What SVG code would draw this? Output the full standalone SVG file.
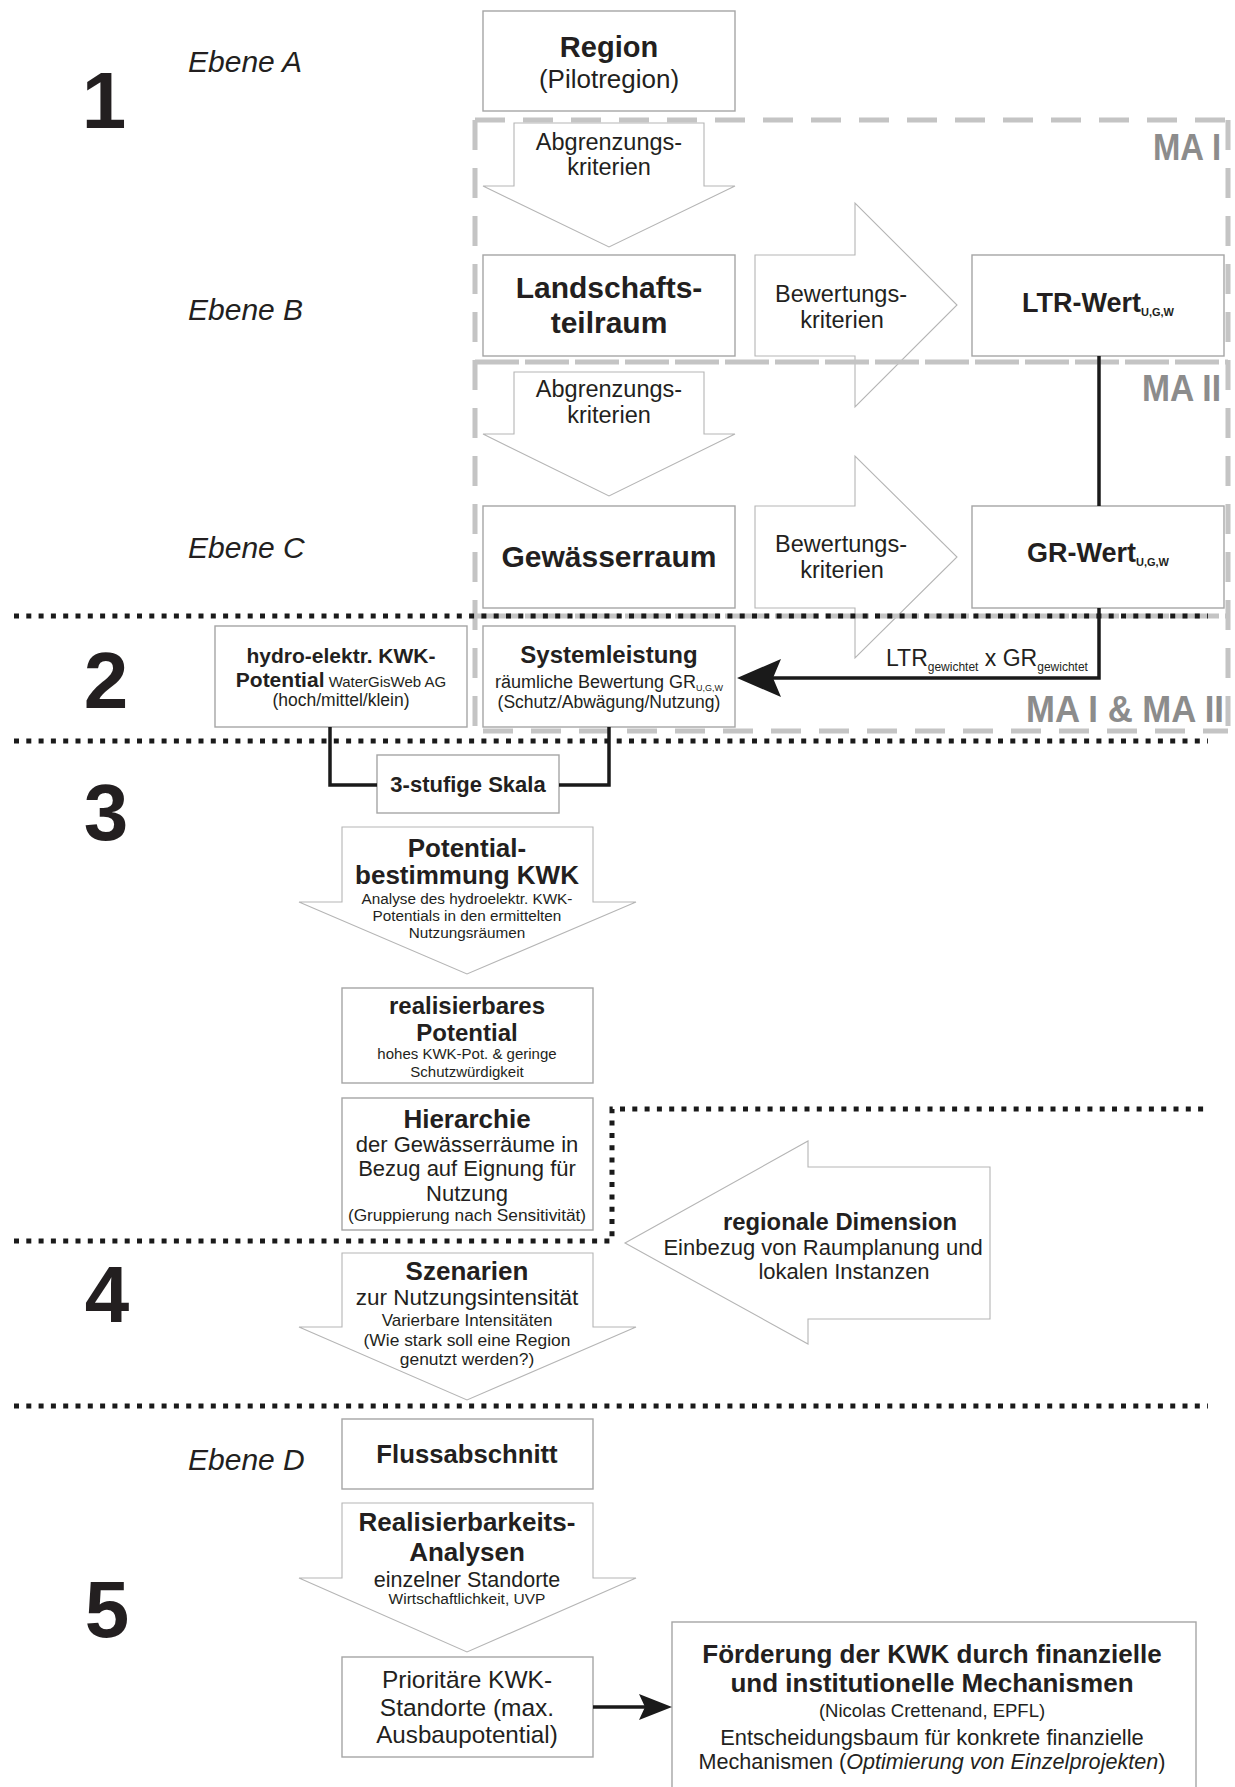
<svg xmlns="http://www.w3.org/2000/svg" width="1235" height="1787" viewBox="0 0 1235 1787">
<defs>
<style>
text{font-family:"Liberation Sans",Arial,sans-serif;fill:#231f20;text-anchor:middle}
.b{font-weight:bold}
.box{fill:#fff;stroke:#a5a5a5;stroke-width:1.4}
.arr{fill:#fff;stroke:#b5b5b5;stroke-width:1.1}
.num{font-size:80px;font-weight:bold}
.eb{font-size:30px;font-style:italic;text-anchor:start}
.ma{font-size:36px;font-weight:bold;fill:#8c8c8c;text-anchor:end}
.gd{fill:none;stroke:#c4c4c4;stroke-width:5;stroke-dasharray:30 18}
.gd2{fill:none;stroke:#c4c4c4;stroke-width:5;stroke-dasharray:44 6}
.dot{fill:none;stroke:#1a1a1a;stroke-width:5;stroke-dasharray:5 7.3}
.con{fill:none;stroke:#1a1a1a;stroke-width:3.5}
.head{fill:#1a1a1a}
</style>
</defs>
<rect width="1235" height="1787" fill="#fff"/>

<g id="labels">
<text class="num" x="104" y="128">1</text>
<text class="num" x="106" y="708">2</text>
<text class="num" x="106" y="840">3</text>
<text class="num" x="107" y="1322">4</text>
<text class="num" x="107" y="1637">5</text>
<text class="eb" x="188" y="72">Ebene A</text>
<text class="eb" x="188" y="320">Ebene B</text>
<text class="eb" x="188" y="558">Ebene C</text>
<text class="eb" x="188" y="1470">Ebene D</text>
</g>

<g id="block-arrows">
<g id="abgrenzung1">
<polygon class="arr" points="514,123 704,123 704,186 735,186 609,247 483,186 514,186"/>
<text x="609" y="150" font-size="23.5">Abgrenzungs-</text>
<text x="609" y="175" font-size="23.5">kriterien</text>
</g>
<g id="bewertung1">
<polygon class="arr" points="755,255 855,255 855,203 957,305 855,407 855,356 755,356"/>
<text x="841" y="302" font-size="23.5">Bewertungs-</text>
<text x="842" y="328" font-size="23.5">kriterien</text>
</g>
<g id="abgrenzung2">
<polygon class="arr" points="514,372 704,372 704,434 735,434 609,496 483,434 514,434"/>
<text x="609" y="397" font-size="23.5">Abgrenzungs-</text>
<text x="609" y="423" font-size="23.5">kriterien</text>
</g>
<g id="bewertung2">
<polygon class="arr" points="755,506 855,506 855,456 957,557 855,658 855,608 755,608"/>
<text x="841" y="552" font-size="23.5">Bewertungs-</text>
<text x="842" y="578" font-size="23.5">kriterien</text>
</g>
</g>

<g id="regions">
<line class="gd" x1="475" y1="120" x2="1228" y2="120"/>
<line class="gd" x1="475" y1="120" x2="475" y2="731"/>
<line class="gd" x1="1228" y1="120" x2="1228" y2="731"/>
<line class="gd2" x1="475" y1="362" x2="1228" y2="362"/>
<line class="gd2" x1="475" y1="616" x2="1228" y2="616"/>
<line class="gd" x1="483" y1="731" x2="1228" y2="731"/>
<text class="ma" x="1221" y="160" textLength="68" lengthAdjust="spacingAndGlyphs">MA I</text>
<text class="ma" x="1221" y="401" textLength="79" lengthAdjust="spacingAndGlyphs">MA II</text>
<text class="ma" x="1224" y="722" textLength="198" lengthAdjust="spacingAndGlyphs">MA I &amp; MA II</text>
</g>

<g id="separators">
<line class="dot" x1="14" y1="616" x2="1208" y2="616"/>
<line class="dot" x1="14" y1="741" x2="1208" y2="741"/>
<polyline class="dot" points="14,1241 612,1241 612,1109 1206,1109"/>
<line class="dot" x1="14" y1="1406" x2="1208" y2="1406"/>
</g>

<g id="region">
<rect class="box" x="483" y="11" width="252" height="100"/>
<text class="b" x="609" y="57" font-size="29">Region</text>
<text x="609" y="88" font-size="26">(Pilotregion)</text>
</g>
<g id="landschaftsteilraum">
<rect class="box" x="483" y="255" width="252" height="101"/>
<text class="b" x="609" y="298" font-size="30">Landschafts-</text>
<text class="b" x="609" y="333" font-size="30">teilraum</text>
</g>
<g id="ltr-wert">
<rect class="box" x="972" y="255" width="252" height="101"/>
<text class="b" x="1098" y="312" font-size="27">LTR-Wert<tspan font-size="11" dy="4">U,G,W</tspan></text>
</g>
<g id="gewaesserraum">
<rect class="box" x="483" y="506" width="252" height="102"/>
<text class="b" x="609" y="567" font-size="30">Gewässerraum</text>
</g>
<g id="gr-wert">
<rect class="box" x="972" y="506" width="252" height="102"/>
<text class="b" x="1098" y="562" font-size="27">GR-Wert<tspan font-size="11" dy="4">U,G,W</tspan></text>
</g>
<g id="hydro">
<rect class="box" x="215" y="626" width="252" height="101"/>
<text class="b" x="341" y="663" font-size="21">hydro-elektr. KWK-</text>
<text x="341" y="687"><tspan class="b" font-size="21">Potential</tspan><tspan font-size="15"> WaterGisWeb AG</tspan></text>
<text x="341" y="706" font-size="17.5">(hoch/mittel/klein)</text>
</g>
<g id="systemleistung">
<rect class="box" x="483" y="626" width="252" height="101"/>
<text class="b" x="609" y="663" font-size="24">Systemleistung</text>
<text x="609" y="688" font-size="18">räumliche Bewertung GR<tspan font-size="9" dy="3">U,G,W</tspan></text>
<text x="609" y="708" font-size="17.5">(Schutz/Abwägung/Nutzung)</text>
</g>
<g id="skala">
<rect class="box" x="377" y="755" width="182" height="58"/>
<text class="b" x="468" y="792" font-size="22">3-stufige Skala</text>
</g>
<g id="potentialbestimmung">
<polygon class="arr" points="342,827 593,827 593,902 636,902 467,974 299,902 342,902"/>
<text class="b" x="467" y="857" font-size="26">Potential-</text>
<text class="b" x="467" y="884" font-size="26">bestimmung KWK</text>
<text x="467" y="904" font-size="15.3">Analyse des hydroelektr. KWK-</text>
<text x="467" y="921" font-size="15.3">Potentials in den ermittelten</text>
<text x="467" y="938" font-size="15.3">Nutzungsräumen</text>
</g>
<g id="realisierbares">
<rect class="box" x="342" y="988" width="251" height="95"/>
<text class="b" x="467" y="1014" font-size="24">realisierbares</text>
<text class="b" x="467" y="1041" font-size="24">Potential</text>
<text x="467" y="1059" font-size="15">hohes KWK-Pot. &amp; geringe</text>
<text x="467" y="1077" font-size="15">Schutzwürdigkeit</text>
</g>
<g id="hierarchie">
<rect class="box" x="342" y="1098" width="251" height="132"/>
<text class="b" x="467" y="1128" font-size="26">Hierarchie</text>
<text x="467" y="1152" font-size="22">der Gewässerräume in</text>
<text x="467" y="1176" font-size="22">Bezug auf Eignung für</text>
<text x="467" y="1201" font-size="22">Nutzung</text>
<text x="467" y="1221" font-size="17.3">(Gruppierung nach Sensitivität)</text>
</g>
<g id="regionale-dimension">
<polygon class="arr" points="625,1243 808,1141 808,1167 990,1167 990,1319 808,1319 808,1344"/>
<text class="b" x="840" y="1230" font-size="23.8">regionale Dimension</text>
<text x="823" y="1255" font-size="22">Einbezug von Raumplanung und</text>
<text x="844" y="1279" font-size="22">lokalen Instanzen</text>
</g>
<g id="szenarien">
<polygon class="arr" points="342,1253 593,1253 593,1327 636,1327 467,1400 299,1327 342,1327"/>
<text class="b" x="467" y="1280" font-size="26">Szenarien</text>
<text x="467" y="1305" font-size="22.5">zur Nutzungsintensität</text>
<text x="467" y="1326" font-size="17">Varierbare Intensitäten</text>
<text x="467" y="1346" font-size="17.4">(Wie stark soll eine Region</text>
<text x="467" y="1365" font-size="17.4">genutzt werden?)</text>
</g>
<g id="flussabschnitt">
<rect class="box" x="342" y="1419" width="251" height="70"/>
<text class="b" x="467" y="1463" font-size="25.7">Flussabschnitt</text>
</g>
<g id="realisierbarkeit">
<polygon class="arr" points="342,1503 593,1503 593,1578 636,1578 467,1652 299,1578 342,1578"/>
<text class="b" x="467" y="1531" font-size="26">Realisierbarkeits-</text>
<text class="b" x="467" y="1561" font-size="26">Analysen</text>
<text x="467" y="1587" font-size="21.5">einzelner Standorte</text>
<text x="467" y="1604" font-size="15.5">Wirtschaftlichkeit, UVP</text>
</g>
<g id="prioritaere">
<rect class="box" x="342" y="1657" width="251" height="100"/>
<text x="467" y="1688" font-size="24.5">Prioritäre KWK-</text>
<text x="467" y="1716" font-size="24.5">Standorte (max.</text>
<text x="467" y="1743" font-size="24.2">Ausbaupotential)</text>
</g>
<g id="foerderung">
<rect class="box" x="672" y="1622" width="524" height="170"/>
<text class="b" x="932" y="1663" font-size="26">Förderung der KWK durch finanzielle</text>
<text class="b" x="932" y="1692" font-size="26">und institutionelle Mechanismen</text>
<text x="932" y="1717" font-size="18.5">(Nicolas Crettenand, EPFL)</text>
<text x="932" y="1745" font-size="21.9">Entscheidungsbaum für konkrete finanzielle</text>
<text x="932" y="1769" font-size="21.6">Mechanismen (<tspan font-style="italic">Optimierung von Einzelprojekten</tspan>)</text>
</g>

<g id="connectors">
<line class="con" x1="1099" y1="356" x2="1099" y2="506"/>
<polyline class="con" stroke-width="4.5" points="1099,608 1099,678 770,678"/>
<path class="head" d="M737,678 L781,659 L773,678 L781,697 Z"/>
<text x="886" y="666" font-size="23" style="text-anchor:start">LTR<tspan font-size="12" dy="5">gewichtet</tspan><tspan dy="-5"> x GR</tspan><tspan font-size="12" dy="5">gewichtet</tspan></text>
<polyline class="con" stroke-width="3" points="330,727 330,785 377,785"/>
<polyline class="con" stroke-width="3" points="609,727 609,785 559,785"/>
<line class="con" x1="593" y1="1707" x2="650" y2="1707"/>
<path class="head" d="M672,1707 L639,1694 L645,1707 L639,1720 Z"/>
</g>
</svg>
